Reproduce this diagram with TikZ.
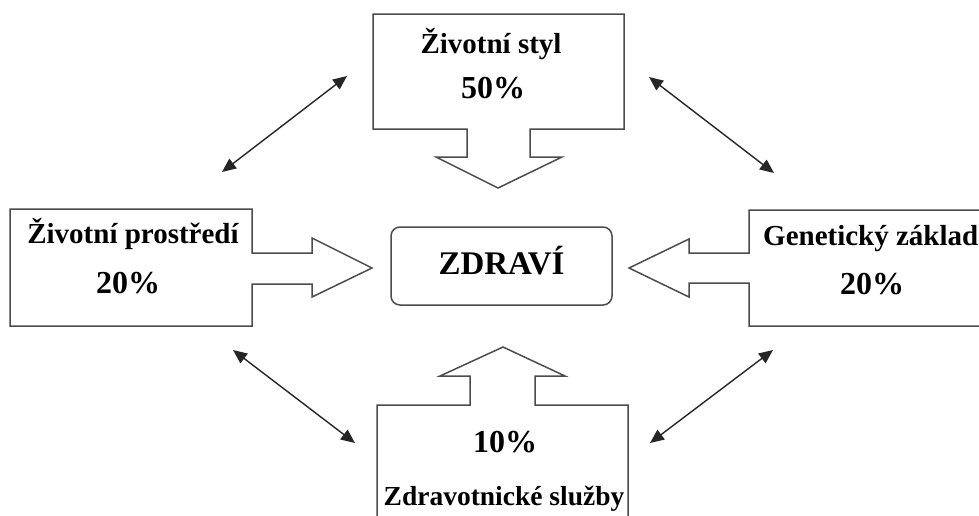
\documentclass[tikz,border=0pt]{standalone}
\usepackage{fontspec}
\setmainfont{Liberation Serif}
\usetikzlibrary{positioning, arrows.meta}

\tikzset{
    boxline/.style={draw=black!70, line width=1.5pt, line join=miter},
    heading/.style={font=\bfseries\fontsize{29}{34}\selectfont, anchor=base, inner sep=0pt},
    share/.style={font=\bfseries\fontsize{32}{38}\selectfont, anchor=base, inner sep=0pt},
    link/.style={{Triangle[length=14pt,width=12pt]}-{Triangle[length=14pt,width=12pt]}, line width=1.4pt, draw=black!85}
}

\begin{document}
\begin{tikzpicture}[x=1pt, y=1pt]
    \useasboundingbox (0,-515) rectangle (979,0);
    \clip (0,-515) rectangle (979,0);

    % boxes with their block arrows
    \draw[boxline] (373,-14) -- (624,-14) -- (624,-129) -- (530,-129) -- (530,-157) -- (562,-157)
        -- (498,-188) -- (436,-157) -- (467,-157) -- (467,-129) -- (373,-129) -- cycle;
    \draw[boxline] (10,-209) -- (252,-209) -- (252,-253) -- (312,-253) -- (312,-238) -- (372,-268)
        -- (312,-297) -- (312,-284) -- (252,-284) -- (252,-326) -- (10,-326) -- cycle;
    \draw[boxline] (749,-210) -- (990,-210) -- (990,-326) -- (749,-326) -- (749,-283) -- (689,-283)
        -- (689,-297) -- (629,-268) -- (689,-239) -- (689,-253) -- (749,-253) -- cycle;
    \draw[boxline] (377,-525) -- (377,-405) -- (470,-405) -- (470,-376) -- (440,-376) -- (503,-347)
        -- (565,-376) -- (535,-376) -- (535,-405) -- (628,-405) -- (628,-525);

    \node[boxline, rounded corners=9pt, minimum width=221pt, minimum height=78pt,
        text height=22pt, text depth=6pt, inner sep=0pt,
        font=\bfseries\fontsize{33}{38}\selectfont] (zdravi) at (501.5,-266) {ZDRAVÍ};

    \node[heading] (styl) at (491,-53) {Životní styl};
    \node[share] (styl-pct) at (493,-98) {50\%};
    \node[heading] (prostredi) at (133,-243) {Životní prostředí};
    \node[share] (prostredi-pct) at (128,-293) {20\%};
    \node[heading, anchor=base west] (geny) at (763,-245) {Genetický základ};
    \node[share] (geny-pct) at (872,-294) {20\%};
    \node[share] (sluzby-pct) at (505,-452) {10\%};
    \node[heading, font=\bfseries\fontsize{27.5}{32}\selectfont] (sluzby) at (504,-505) {Zdravotnické služby};

    % mutual links between the factors
    \coordinate (tl-a) at (222,-172);
    \coordinate (tl-b) at (347,-76);
    \coordinate (tr-a) at (649,-77);
    \coordinate (tr-b) at (774,-173);
    \coordinate (bl-a) at (233,-350);
    \coordinate (bl-b) at (355,-443);
    \coordinate (br-a) at (773,-350);
    \coordinate (br-b) at (650,-443);

    \draw[link] (tl-a) -- (tl-b);
    \draw[link] (tr-a) -- (tr-b);
    \draw[link] (bl-a) -- (bl-b);
    \draw[link] (br-a) -- (br-b);
\end{tikzpicture}
\end{document}
